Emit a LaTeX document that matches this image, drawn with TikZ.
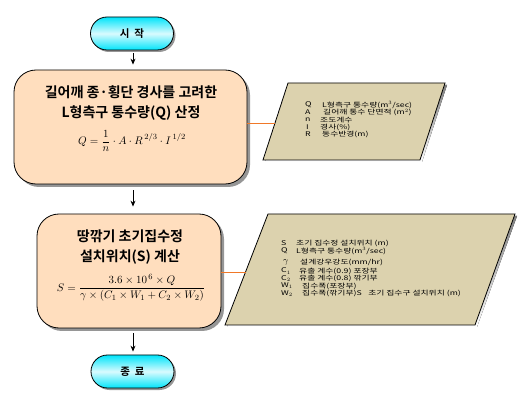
\documentclass[tikz,border=0pt]{standalone}
\usepackage{fontspec}
\setmainfont{Liberation Serif}
\newfontfamily\kr{Noto Sans CJK KR}[FakeStretch=1.35]
\newfontfamily\krb{Noto Sans CJK KR Bold}
\usetikzlibrary{shapes.geometric,shapes.misc,arrows.meta,shadows}
\definecolor{peach}{RGB}{255,222,190}
\definecolor{tan}{RGB}{220,210,174}
\definecolor{cyanx}{RGB}{0,228,250}
\definecolor{orangex}{RGB}{240,120,40}
\definecolor{shade}{RGB}{150,150,150}
\tikzset{
  term/.style={rounded rectangle, draw=black, line width=0.8pt, minimum width=83pt, minimum height=33pt,
    top color=cyanx, bottom color=cyanx, middle color=white!85!cyanx, inner sep=0pt,
    drop shadow={shadow xshift=2pt, shadow yshift=-2pt, fill=shade, opacity=1}, font=\krb\fontsize{10.5}{12}\selectfont},
  procbox/.style={rectangle, rounded corners=22pt, draw=black, line width=0.8pt, fill=peach,
    drop shadow={shadow xshift=3pt, shadow yshift=-3pt, fill=shade, opacity=1}, inner sep=0pt},
  arr/.style={-{Stealth[length=6pt,width=5pt]}, line width=0.8pt, black},
  link/.style={orangex, line width=0.8pt},
  para/.style={draw=black, line width=0.8pt, fill=tan},
  paratext/.style={anchor=west, inner sep=0pt, font=\kr\fontsize{6.5}{7}\selectfont},
  titletext/.style={font=\krb\fontsize{14}{16}\selectfont, inner sep=0pt},
  formula/.style={inner sep=0pt, font=\fontsize{11}{13}\selectfont},
}
\begin{document}
\begin{tikzpicture}[x=1pt,y=-1pt]
\useasboundingbox (0,0) rectangle (523,401);

% terminators
\node[term] (start) at (132,33.5) {시\ \ 작};
\node[term] (end) at (132.5,371.5) {종\ \ 료};

% process boxes
\node[procbox, minimum width=233pt, minimum height=114pt] (box1) at (130.5,127) {};
\node[titletext] (t11) at (131,92) {길어깨\ 종·횡단\ 경사를\ 고려한};
\node[titletext] (t12) at (131,113) {L형측구\ 통수량(Q)\ 산정};
\node[formula] (f1) at (132,141)
  {$Q=\displaystyle\frac{1}{n}\cdot A\cdot R^{\,2/3}\cdot I^{\,1/2}$};

\node[procbox, minimum width=184pt, minimum height=114pt] (box2) at (129,271) {};
\node[titletext] (t21) at (130,236) {땅깎기\ 초기집수정};
\node[titletext] (t22) at (130,257) {설치위치(S)\ 계산};
\node[formula] (f2) at (131,288)
  {$\displaystyle S=\frac{3.6\times10^{\,6}\times Q}{\gamma\times(C_1\times W_1+C_2\times W_2)}$};

% parallelogram 1
\fill[shade] (290,85) -- (447,85) -- (422,162) -- (265,162) -- cycle;
\draw[para] (288,83) -- (445,83) -- (420,160) -- (263,160) -- cycle;
\coordinate (p1w) at (275,123);
\node[paratext] (q1) at (305,105) {Q};
\node[paratext] (q1t) at (322,105) {L형측구 통수량(m$^3$/sec)};
\node[paratext] (a1) at (305,112.5) {A};
\node[paratext] (a1t) at (323,112.5) {길어깨 통수 단면적 (m$^2$)};
\node[paratext] (n1) at (305,120) {n};
\node[paratext] (n1t) at (320,120) {조도계수};
\node[paratext] (i1) at (306,127) {I};
\node[paratext] (i1t) at (320,127) {경사(\%)};
\node[paratext] (r1) at (305,134.5) {R};
\node[paratext] (r1t) at (322,134.5) {동수반경(m)};

% parallelogram 2
\fill[shade] (270,216) -- (517,216) -- (477,327) -- (227,327) -- cycle;
\draw[para] (268,214) -- (515,214) -- (475,325) -- (225,325) -- cycle;
\coordinate (p2w) at (245.5,272);
\node[paratext] (s2) at (281,243.5) {S};
\node[paratext] (s2t) at (296,243.5) {초기 집수정 설치위치 (m)};
\node[paratext] (q2) at (281,251) {Q};
\node[paratext] (q2t) at (296,251) {L형측구 통수량(m$^3$/sec)};
\node[paratext, font=\fontsize{9}{10}\selectfont] (g2) at (283,262) {$\gamma$};
\node[paratext] (g2t) at (300,262) {설계강우강도(mm/hr)};
\node[paratext] (c12) at (281,271) {C$_1$};
\node[paratext] (c12t) at (299,271) {유출 계수(0.9) 포장부};
\node[paratext] (c22) at (281,278.5) {C$_2$};
\node[paratext] (c22t) at (299,278.5) {유출 계수(0.8) 깎기부};
\node[paratext] (w12) at (281,286) {W$_1$};
\node[paratext] (w12t) at (302,286) {집수폭(포장부)};
\node[paratext] (w22) at (281,293.5) {W$_2$};
\node[paratext] (w22t) at (302,293.5) {집수폭(깎기부)S\quad 초기 집수구 설치위치 (m)};

% flow arrows
\draw[arr, shorten <=3pt, shorten >=5pt] (start.south -| 133,0) -- (box1.north -| 133,0);
\draw[arr, shorten <=6pt, shorten >=7pt] (box1.south -| 133,0) -- (box2.north -| 133,0);
\draw[arr, shorten <=5pt, shorten >=3pt] (box2.south -| 133,0) -- (end.north -| 133,0);

% links
\draw[link] (box1.east |- p1w) -- (p1w);
\draw[link] (box2.east |- p2w) -- (p2w);
\end{tikzpicture}
\end{document}
